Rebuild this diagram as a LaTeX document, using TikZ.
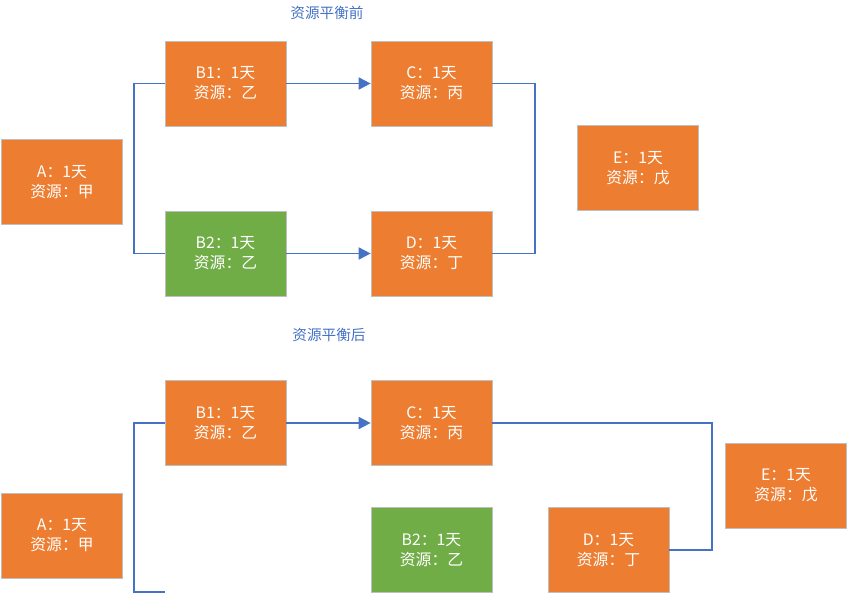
\documentclass[tikz,border=0pt]{standalone}
\usepackage{fontspec}
\setmainfont{Noto Sans CJK SC}
\usetikzlibrary{arrows.meta}
\definecolor{taskorange}{HTML}{ED7D31}
\definecolor{taskgreen}{HTML}{70AD47}
\definecolor{edgegray}{HTML}{BFBFBF}
\definecolor{linkblue}{HTML}{4472C4}
\tikzset{
  task/.style={draw=edgegray, line width=0.6pt, fill=taskorange, text=white,
               minimum width=3.63cm, minimum height=2.55cm, inner sep=0pt,
               align=center, font=\fontsize{13.5}{17}\selectfont},
  moved/.style={task, fill=taskgreen},
  heading/.style={text=linkblue, font=\fontsize{12.5}{15}\selectfont},
  link/.style={draw=linkblue, line width=1.5pt},
  flow/.style={link, -{Triangle[length=3.6mm,width=3.6mm]}}
}
\begin{document}
\begin{tikzpicture}[x=0.03cm,y=-0.03cm]
\useasboundingbox (0,0) rectangle (848,594);
% before levelling
\node [heading] (before) at (327,13) {资源平衡前};
\node [task]  (A)  at (62,182)    {A：1天\\资源：甲};
\node [task]  (B1) at (225.5,83.5) {B1：1天\\资源：乙};
\node [moved] (B2) at (225.5,253.5) {B2：1天\\资源：乙};
\node [task]  (C)  at (431.5,83.5) {C：1天\\资源：丙};
\node [task]  (D)  at (431.5,253.5) {D：1天\\资源：丁};
\node [task]  (E)  at (638,168)    {E：1天\\资源：戊};
\draw [link] (B1.west) -- ++(-31,0) |- (B2.west);
\draw [flow] (B1) -- (C);
\draw [flow] (B2) -- (D);
\draw [link] (C.east) -- ++(43,0) |- (D.east);
% after levelling
\node [heading] (after) at (329,335) {资源平衡后};
\node [task]  (A')  at (62,535.5)   {A：1天\\资源：甲};
\node [task]  (B1') at (225.5,423)  {B1：1天\\资源：乙};
\node [task]  (C')  at (431.5,423)  {C：1天\\资源：丙};
\node [moved] (B2') at (431.5,550)  {B2：1天\\资源：乙};
\node [task]  (D')  at (608.5,550)  {D：1天\\资源：丁};
\node [task]  (E')  at (786,485.5)  {E：1天\\资源：戊};
\coordinate (stub) at (165,592);
\draw [link] (B1'.west) -- ++(-31,0) |- (stub);
\draw [flow] (B1') -- (C');
\draw [link] (C'.east) -- ++(220,0) |- (D'.east);
\end{tikzpicture}
\end{document}
